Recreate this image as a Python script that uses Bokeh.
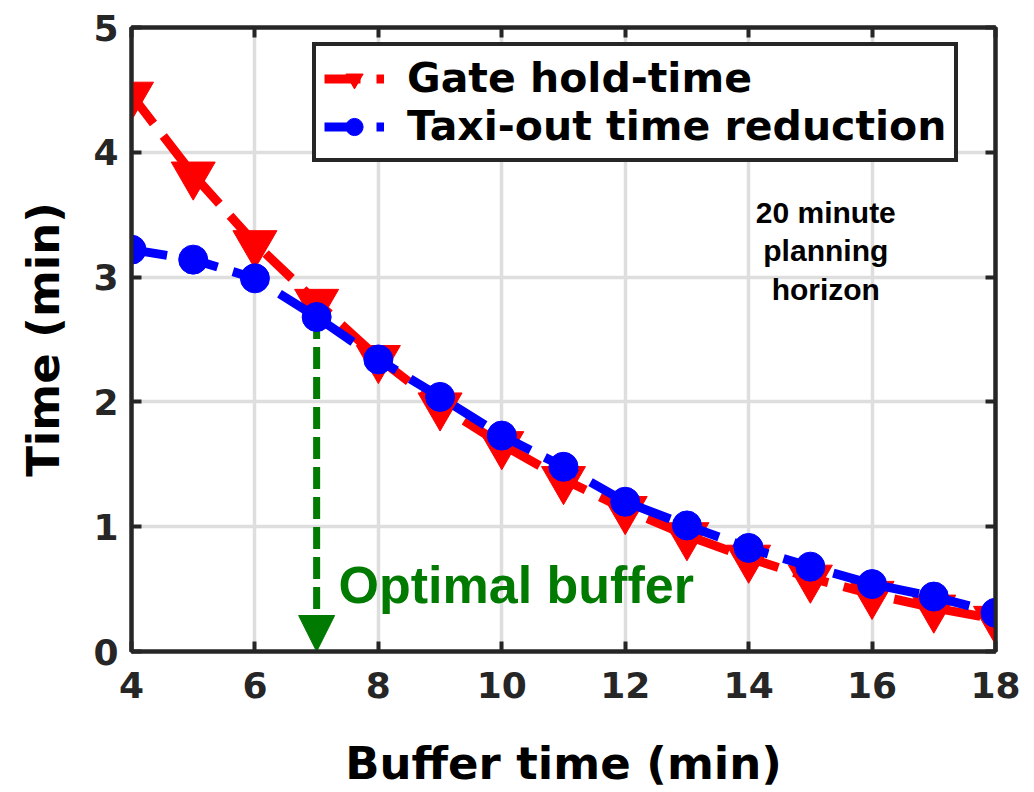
from bokeh.plotting import figure
from bokeh.models import (Range1d, LinearAxis, FixedTicker, Arrow, NormalHead,
                          Label, Legend, LegendItem)
from bokeh.embed import file_html
from bokeh.resources import INLINE

# ---------------- data ----------------
buffer_time = [4, 5, 6, 7, 8, 9, 10, 11, 12, 13, 14, 15, 16, 17, 18]
gate_hold = [4.46, 3.82, 3.27, 2.80, 2.35, 1.97, 1.66, 1.38, 1.14, 0.93,
             0.75, 0.59, 0.46, 0.35, 0.26]
taxi_reduction = [3.22, 3.14, 2.99, 2.68, 2.34, 2.04, 1.73, 1.48, 1.20, 1.01,
                  0.83, 0.68, 0.54, 0.44, 0.31]
x_ticks = [4, 6, 8, 10, 12, 14, 16, 18]
y_ticks = [0, 1, 2, 3, 4, 5]
series_names = ["Gate hold-time", "Taxi-out time reduction"]
x_title = "Buffer time (min)"
y_title = "Time (min)"
optimal_buffer = 7
note_lines = ["20 minute", "planning", "horizon"]
arrow_text = "Optimal buffer"

AX = "#262626"
GREEN = "#007a00"

p = figure(width=1034, height=792, output_backend="svg", toolbar_location=None,
           x_range=Range1d(4, 18), y_range=Range1d(0, 5),
           min_border_left=131, min_border_right=39,
           min_border_top=27, min_border_bottom=140)
p.background_fill_color = "white"
p.border_fill_color = "white"
p.outline_line_color = AX
p.outline_line_width = 4


def base_axis(ax):
    ax.axis_line_color = AX
    ax.axis_line_width = 4
    ax.major_tick_line_color = AX
    ax.major_tick_line_width = 4
    ax.major_tick_in = 10
    ax.major_tick_out = 0
    ax.minor_tick_line_color = AX
    ax.minor_tick_line_width = 4
    ax.minor_tick_in = 10
    ax.minor_tick_out = 0


def label_axis(ax, ticks):
    base_axis(ax)
    ax.ticker = FixedTicker(ticks=ticks, minor_ticks=[])
    ax.major_label_text_font = "DejaVu Sans"
    ax.major_label_text_font_style = "bold"
    ax.major_label_text_font_size = "36px"
    ax.major_label_text_color = AX
    ax.axis_label_text_font = "DejaVu Sans"
    ax.axis_label_text_font_style = "bold"
    ax.axis_label_text_font_size = "45px"
    ax.axis_label_text_color = "black"


def mirror_axis(ax, ticks):
    # ticks only (drawn as minor ticks, so no labels at all)
    base_axis(ax)
    ax.ticker = FixedTicker(ticks=[], minor_ticks=ticks)


label_axis(p.xaxis[0], x_ticks)
label_axis(p.yaxis[0], y_ticks)
p.xaxis[0].major_label_standoff = 20
p.xaxis[0].axis_label = x_title
p.xaxis[0].axis_label_standoff = 36
p.yaxis[0].major_label_standoff = 13
p.yaxis[0].axis_label = y_title
p.yaxis[0].axis_label_standoff = 20

top_ax = LinearAxis()
mirror_axis(top_ax, x_ticks)
p.add_layout(top_ax, "above")
right_ax = LinearAxis()
mirror_axis(right_ax, y_ticks)
p.add_layout(right_ax, "right")

for g in (p.xgrid[0], p.ygrid[0]):
    g.grid_line_color = "#dedede"
    g.grid_line_width = 3.5
p.xgrid[0].ticker = FixedTicker(ticks=x_ticks)
p.ygrid[0].ticker = FixedTicker(ticks=y_ticks)

# optimal buffer arrow (under the markers)
opt_idx = buffer_time.index(optimal_buffer)
arrow = Arrow(x_start=optimal_buffer, y_start=taxi_reduction[opt_idx],
              x_end=optimal_buffer, y_end=0,
              line_color=GREEN, line_width=7, line_dash="22 8",
              end=NormalHead(size=36, fill_color=GREEN, line_color=GREEN, line_width=1),
              level="underlay")
p.add_layout(arrow)

r1 = p.line(buffer_time, gate_hold, line_color="red", line_width=9, line_dash="36 16")
r2 = p.scatter(buffer_time, gate_hold, marker="inverted_triangle", size=44,
               fill_color="red", line_color="red", line_width=1)
r3 = p.line(buffer_time, taxi_reduction, line_color="blue", line_width=9, line_dash="36 16")
r4 = p.scatter(buffer_time, taxi_reduction, marker="circle", size=29,
               fill_color="blue", line_color="blue", line_width=1)

legend = Legend(items=[LegendItem(label=series_names[0], renderers=[r1, r2]),
                       LegendItem(label=series_names[1], renderers=[r3, r4])],
                location=(181, 489), margin=0, padding=8, spacing=0,
                glyph_width=60, glyph_height=43, label_height=43, label_standoff=23,
                label_text_font="DejaVu Sans", label_text_font_style="bold",
                label_text_font_size="41px", label_text_color="black",
                border_line_color=AX, border_line_width=4, border_line_alpha=1.0,
                background_fill_color="white", background_fill_alpha=1.0)
p.add_layout(legend)

p.add_layout(Label(x=7.355, y=0.536, text=arrow_text, text_font="Liberation Sans",
                   text_font_style="bold", text_font_size="52px", text_color=GREEN,
                   text_baseline="alphabetic", text_align="left"))

note_y = [3.514, 3.210, 2.898]
for t, yy in zip(note_lines, note_y):
    p.add_layout(Label(x=15.25, y=yy, text=t, text_font="Liberation Sans",
                       text_font_style="bold", text_font_size="30px", text_color="black",
                       text_baseline="alphabetic", text_align="center"))

open("out.html", "w").write(file_html(p, INLINE))
